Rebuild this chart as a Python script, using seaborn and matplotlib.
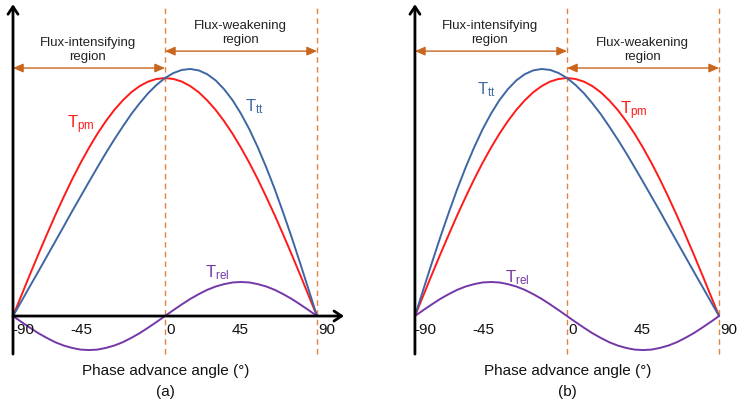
import matplotlib
matplotlib.use('Agg')
import matplotlib.pyplot as plt
import pandas as pd
import seaborn as sns

# phase advance angle (deg)
angle = [-90, -85, -80, -75, -70, -65, -60, -55, -50, -45, -40, -35, -30, -25, -20, -15, -10, -5,
         0, 5, 10, 15, 20, 25, 30, 35, 40, 45, 50, 55, 60, 65, 70, 75, 80, 85, 90]

# torques (normalised to the PM torque at 0 deg)
t_pm = [0.000, 0.087, 0.174, 0.259, 0.342, 0.423, 0.500, 0.574, 0.643, 0.707, 0.766, 0.819, 0.866, 0.906, 0.940, 0.966, 0.985, 0.996,
        1.000, 0.996, 0.985, 0.966, 0.940, 0.906, 0.866, 0.819, 0.766, 0.707, 0.643, 0.574, 0.500, 0.423, 0.342, 0.259, 0.174, 0.087, 0.000]

# (a)
t_rel_a = [0.000, -0.025, -0.049, -0.072, -0.092, -0.110, -0.124, -0.134, -0.141, -0.143, -0.141, -0.134, -0.124, -0.110, -0.092, -0.072, -0.049, -0.025,
           0.000, 0.025, 0.049, 0.072, 0.092, 0.110, 0.124, 0.134, 0.141, 0.143, 0.141, 0.134, 0.124, 0.110, 0.092, 0.072, 0.049, 0.025, 0.000]
t_tt_a = [0.000, 0.062, 0.125, 0.187, 0.250, 0.313, 0.376, 0.440, 0.502, 0.564, 0.625, 0.685, 0.742, 0.796, 0.848, 0.894, 0.936, 0.971,
          1.000, 1.021, 1.034, 1.038, 1.032, 1.016, 0.990, 0.953, 0.907, 0.850, 0.784, 0.708, 0.624, 0.533, 0.434, 0.331, 0.223, 0.112, 0.000]

# (b)
t_rel_b = [0.000, 0.025, 0.049, 0.072, 0.092, 0.110, 0.124, 0.134, 0.141, 0.143, 0.141, 0.134, 0.124, 0.110, 0.092, 0.072, 0.049, 0.025,
           0.000, -0.025, -0.049, -0.072, -0.092, -0.110, -0.124, -0.134, -0.141, -0.143, -0.141, -0.134, -0.124, -0.110, -0.092, -0.072, -0.049, -0.025, 0.000]
t_tt_b = [0.000, 0.112, 0.223, 0.331, 0.434, 0.533, 0.624, 0.708, 0.784, 0.850, 0.907, 0.953, 0.990, 1.016, 1.032, 1.038, 1.034, 1.021,
          1.000, 0.971, 0.936, 0.894, 0.848, 0.796, 0.742, 0.685, 0.625, 0.564, 0.502, 0.440, 0.376, 0.313, 0.250, 0.187, 0.125, 0.062, 0.000]

tick_vals = [-90, -45, 0, 45, 90]
tick_labels = ['-90', '-45', '0', '45', '90']

RED = '#ff1a1a'
BLUE = '#3f66a3'
PURPLE = '#7437a8'
ORANGE = '#c8661e'
DASH = '#e4823e'

sns.set_theme(style='white')
plt.rcParams['font.family'] = ['Liberation Sans', 'DejaVu Sans']
plt.rcParams['mathtext.fontset'] = 'custom'
plt.rcParams['mathtext.rm'] = 'Liberation Sans'
plt.rcParams['mathtext.it'] = 'Liberation Sans'

fig = plt.figure(figsize=(7.39, 4.02), dpi=100)
ax_a = fig.add_axes([0, 0, 370 / 739, 1])
ax_b = fig.add_axes([370 / 739, 0, 369 / 739, 1])


def make_df(tpm, ttt, trel):
    return pd.DataFrame({
        'angle': angle * 3,
        'torque': tpm + ttt + trel,
        'curve': ['pm'] * len(angle) + ['tt'] * len(angle) + ['rel'] * len(angle),
    })


def draw_panel(ax, df, xlim, tag, labels, int_y, weak_y):
    sns.lineplot(data=df, x='angle', y='torque', hue='curve',
                 palette={'pm': RED, 'tt': BLUE, 'rel': PURPLE},
                 linewidth=1.4, legend=False, ax=ax, zorder=3)
    ax.set_xlim(*xlim)
    ax.set_ylim(-0.357, 1.332)
    ax.axis('off')

    # axes with arrow heads
    ax.annotate('', xy=(-90, 1.31), xytext=(-90, -0.16),
                arrowprops=dict(arrowstyle='->,head_length=0.45,head_width=0.3',
                                lw=2.0, color='black', shrinkA=0, shrinkB=0), zorder=4)
    ax.annotate('', xy=(106, 0), xytext=(-90, 0),
                arrowprops=dict(arrowstyle='->,head_length=0.45,head_width=0.3',
                                lw=2.0, color='black', shrinkA=0, shrinkB=0), zorder=4)

    # region borders
    for xv in [0, 90]:
        ax.plot([xv, xv], [-0.16, 1.31], ls=(0, (4, 3)), lw=1.0, color=DASH, zorder=2)

    # region arrows
    ax.annotate('', xy=(0, int_y), xytext=(-90, int_y),
                arrowprops=dict(arrowstyle='<|-|>,head_length=0.5,head_width=0.22',
                                lw=1.0, color=ORANGE, shrinkA=0, shrinkB=0))
    ax.annotate('', xy=(90, weak_y), xytext=(0, weak_y),
                arrowprops=dict(arrowstyle='<|-|>,head_length=0.5,head_width=0.22',
                                lw=1.0, color=ORANGE, shrinkA=0, shrinkB=0))
    ax.text(-45.6, int_y + 0.08, 'Flux-intensifying\nregion', ha='center', va='center',
            fontsize=9.5, color='#222222', linespacing=1.2)
    ax.text(44.7, weak_y + 0.08, 'Flux-weakening\nregion', ha='center', va='center',
            fontsize=9.5, color='#222222', linespacing=1.2)

    # tick labels
    offsets = [-84, -49.5, 3.5, 44.5, 96]
    for xv, lab in zip(offsets, tick_labels):
        ax.text(xv, -0.055, lab, ha='center', va='center', fontsize=11, color='#111111')

    ax.text(0.3, -0.227, 'Phase advance angle (°)', ha='center', va='center',
            fontsize=11, color='#111111')
    ax.text(0, -0.313, tag, ha='center', va='center', fontsize=11, color='#111111')

    for (x, y, s, c) in labels:
        ax.text(x, y, s, ha='left', va='baseline', fontsize=12, color=c)


draw_panel(ax_a, make_df(t_pm, t_tt_a, t_rel_a), (-97.7, 121.4), '(a)',
           [(-58, 0.794, r'$\mathrm{T_{pm}}$', RED),
            (47.4, 0.866, r'$\mathrm{T_{tt}}$', BLUE),
            (23.7, 0.168, r'$\mathrm{T_{rel}}$', PURPLE)],
           int_y=1.042, weak_y=1.113)

draw_panel(ax_b, make_df(t_pm, t_tt_b, t_rel_b), (-116.6, 101.8), '(b)',
           [(-53.3, 0.937, r'$\mathrm{T_{tt}}$', BLUE),
            (31.4, 0.853, r'$\mathrm{T_{pm}}$', RED),
            (-36.7, 0.147, r'$\mathrm{T_{rel}}$', PURPLE)],
           int_y=1.113, weak_y=1.042)

fig.savefig('out.png', dpi=100)
